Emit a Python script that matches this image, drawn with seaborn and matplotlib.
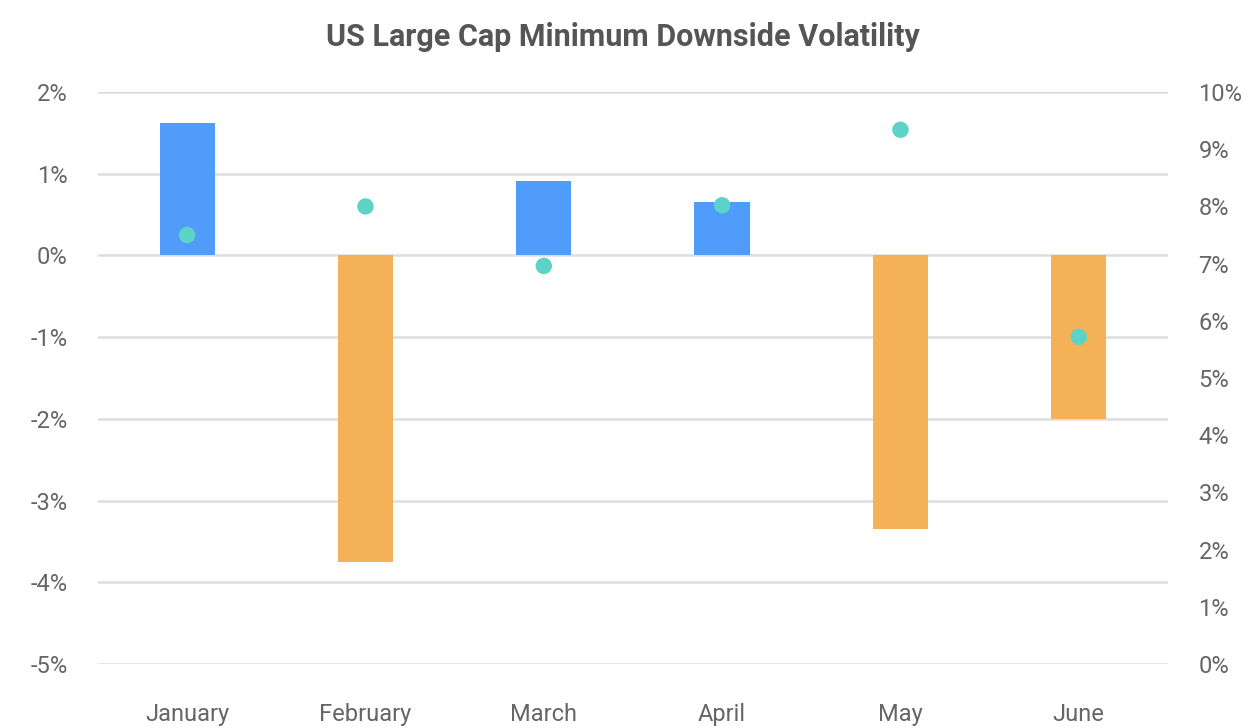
import matplotlib
matplotlib.use("Agg")
import matplotlib.pyplot as plt
import seaborn as sns
import pandas as pd
from matplotlib.ticker import FuncFormatter

# data
months = ["January", "February", "March", "April", "May", "June"]
monthly_return = [1.62, -3.75, 0.91, 0.65, -3.35, -2.0]
downside_vol = [7.5, 8.0, 6.96, 8.02, 9.34, 5.72]

df = pd.DataFrame({"month": months, "ret": monthly_return, "vol": downside_vol})
df["sign"] = ["up" if r >= 0 else "down" for r in df["ret"]]

sns.set_style("white")
plt.rcParams["font.family"] = ["Roboto", "DejaVu Sans"]

fig = plt.figure(figsize=(12.45, 7.28), dpi=100)
ax = fig.add_axes([0.0787, 0.0879, 0.8594, 0.7857])

sns.barplot(data=df, x="month", y="ret", hue="sign",
            palette={"up": "#4F9CFA", "down": "#F5B157"}, saturation=1,
            dodge=False, width=0.31, legend=False, linewidth=0,
            ax=ax, zorder=3)

ax.set_ylim(-5, 2)
ax.set_yticks(range(-5, 3))
ax.yaxis.set_major_formatter(FuncFormatter(lambda v, p: f"{v:.0f}%"))
ax.set_xlim(-0.5, 5.5)
ax.grid(axis="y", color="#DDDDDD", linewidth=1.8, zorder=0)
ax.set_axisbelow(True)
ax.set_xlabel("")
ax.set_ylabel("")

ax2 = ax.twinx()
sns.scatterplot(data=df, x="month", y="vol", color="#5DD3C8", s=140,
                edgecolor="none", ax=ax2, zorder=4)
ax2.set_ylim(0, 10)
ax2.set_yticks(range(0, 11))
ax2.yaxis.set_major_formatter(FuncFormatter(lambda v, p: f"{v:.0f}%"))
ax2.set_ylabel("")
ax2.set_xlim(-0.5, 5.5)

for a in (ax, ax2):
    for s in a.spines.values():
        s.set_visible(False)
    a.tick_params(length=0, labelsize=17, colors="#666666")
ax.tick_params(axis="y", pad=22)
ax2.tick_params(axis="y", pad=22)
ax.tick_params(axis="x", pad=28)

fig.suptitle("US Large Cap Minimum Downside Volatility", fontsize=22,
             fontweight="bold", color="#555555", y=0.97)

fig.savefig("out.png", dpi=100)
